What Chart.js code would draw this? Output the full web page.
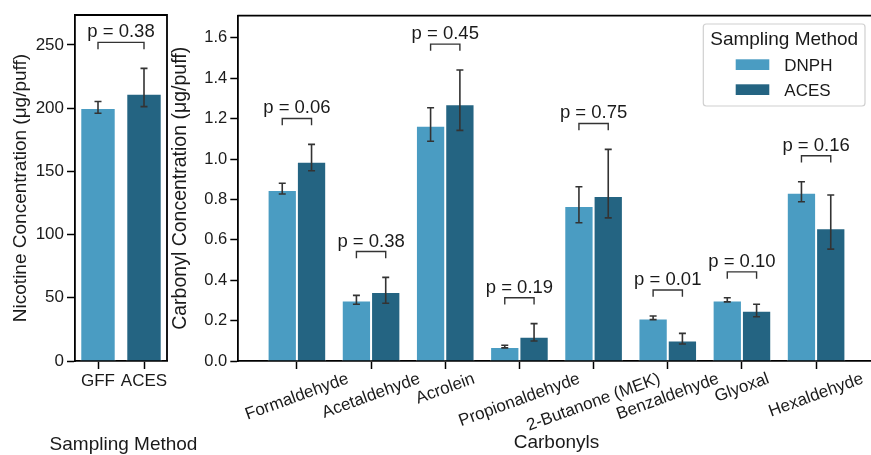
<!DOCTYPE html>
<html><head><meta charset="utf-8">
<script src="https://cdn.jsdelivr.net/npm/chart.js@4.4.1/dist/chart.umd.min.js"></script>
<style>
html,body{margin:0;padding:0;width:871px;height:455px;overflow:hidden;background:#fff;}
canvas{position:absolute;top:0;}
#c1{left:0;}
#c2{left:150px;}
</style></head><body>
<canvas id="c1" width="200" height="455"></canvas>
<canvas id="c2" width="730" height="455"></canvas>
<script>
// ---------- data ----------
const methods = ['GFF', 'ACES'];
const nicotine = [200.2, 211.4];
const nicotineLow = [196.0, 201.2];
const nicotineHigh = [205.3, 231.5];
const nicotineP = '0.38';
const nicotineXTitle = 'Sampling Method';

const categories = ['Formaldehyde', 'Acetaldehyde', 'Acrolein', 'Propionaldehyde',
  '2-Butanone (MEK)', 'Benzaldehyde', 'Glyoxal', 'Hexaldehyde'];
const dnph     = [0.847, 0.299, 1.165, 0.069, 0.767, 0.211, 0.299, 0.833];
const dnphLow  = [0.827, 0.281, 1.088, 0.065, 0.685, 0.205, 0.293, 0.789];
const dnphHigh = [0.880, 0.325, 1.254, 0.078, 0.863, 0.223, 0.313, 0.888];
const aces     = [0.987, 0.342, 1.271, 0.120, 0.817, 0.102, 0.249, 0.657];
const acesLow  = [0.942, 0.286, 1.142, 0.099, 0.709, 0.084, 0.219, 0.554];
const acesHigh = [1.073, 0.414, 1.441, 0.185, 1.048, 0.137, 0.281, 0.822];
const pValues  = ['0.06', '0.38', '0.45', '0.19', '0.75', '0.01', '0.10', '0.16'];
const seriesNames = ['DNPH', 'ACES'];
const legendTitle = 'Sampling Method';

// ---------- style ----------
const FONT = "'Liberation Sans', Arial, Helvetica, sans-serif";
const C_LIGHT = '#4a9cc2';
const C_DARK = '#246482';
const INK = '#1a1a1a';
const ERR = '#333333';
const NIC_MAX = 273.7;
const CARB_MAX = 1.71;

Chart.defaults.font.family = FONT;
Chart.defaults.color = INK;

function axisGrid() {
  return {display: true, drawOnChartArea: false, drawTicks: true, tickLength: 8,
          tickWidth: 1.5, tickColor: '#000', offset: false};
}

// error bars + p brackets
function makeAnnot(lows, highs, pv, ymax, pairs) {
  return {
    id: 'annot',
    afterDatasetsDraw(chart) {
      const ctx = chart.ctx, ys = chart.scales.y;
      ctx.save();
      ctx.strokeStyle = ERR; ctx.lineWidth = 1.6; ctx.lineCap = 'butt';
      chart.data.datasets.forEach((ds, di) => {
        const meta = chart.getDatasetMeta(di);
        meta.data.forEach((bar, i) => {
          const lo = lows[di][i], hi = highs[di][i];
          const y1 = ys.getPixelForValue(lo), y2 = ys.getPixelForValue(hi);
          ctx.beginPath();
          ctx.moveTo(bar.x, y1); ctx.lineTo(bar.x, y2);
          ctx.moveTo(bar.x - 3.5, y1); ctx.lineTo(bar.x + 3.5, y1);
          ctx.moveTo(bar.x - 3.5, y2); ctx.lineTo(bar.x + 3.5, y2);
          ctx.stroke();
        });
      });
      // brackets
      ctx.lineWidth = 1.4; ctx.strokeStyle = '#333';
      ctx.fillStyle = INK;
      ctx.font = '18.5px ' + FONT;
      ctx.textAlign = 'center'; ctx.textBaseline = 'alphabetic';
      pairs.forEach(([xa, xb, top], k) => {
        const yb = ys.getPixelForValue(top + 0.075 * ymax);
        const yt = ys.getPixelForValue(top + 0.075 * ymax - 0.0195 * ymax);
        ctx.beginPath();
        ctx.moveTo(xa, yt); ctx.lineTo(xa, yb); ctx.lineTo(xb, yb); ctx.lineTo(xb, yt);
        ctx.stroke();
        ctx.fillText('p = ' + pv[k], (xa + xb) / 2, yb - 5);
      });
      ctx.restore();
    }
  };
}

const spinePlugin = (withRight) => ({
  id: 'spines',
  afterDraw(chart) {
    const {ctx, chartArea: a} = chart;
    ctx.save();
    ctx.strokeStyle = '#000'; ctx.lineWidth = 1.8;
    ctx.beginPath();
    ctx.moveTo(a.left - 0.9, a.top); ctx.lineTo(a.right + (withRight ? 0.9 : 20), a.top);
    if (withRight) { ctx.moveTo(a.right, a.top); ctx.lineTo(a.right, a.bottom); }
    ctx.stroke();
    ctx.restore();
  }
});

// ---------- left chart (nicotine) ----------
const leftXTitle = {
  id: 'leftXTitle',
  afterDraw(chart) {
    const {ctx, chartArea: a} = chart;
    ctx.save();
    ctx.font = '19px ' + FONT;
    ctx.fillStyle = INK;
    ctx.textAlign = 'center'; ctx.textBaseline = 'alphabetic';
    ctx.fillText(nicotineXTitle, (a.left + a.right) / 2 + 2.5, 449.5);
    ctx.restore();
  }
};

const leftChart = new Chart(document.getElementById('c1'), {
  type: 'bar',
  data: {
    labels: methods,
    datasets: [{
      label: 'Nicotine', data: nicotine,
      backgroundColor: [C_LIGHT, C_DARK], borderColor: 'rgba(255,255,255,0.9)', borderWidth: 1,
      barPercentage: 0.77, categoryPercentage: 1.0
    }]
  },
  options: {
    responsive: false, animation: false, events: [],
    layout: {padding: {top: 15, right: 33, left: 0, bottom: 0}},
    plugins: {legend: {display: false}, tooltip: {enabled: false}},
    scales: {
      x: {
        type: 'category', offset: true, grid: axisGrid(),
        border: {display: true, color: '#000', width: 1.8},
        ticks: {font: {size: 17}, color: INK, padding: 2, maxRotation: 0, autoSkip: false},
        afterFit: s => { s.height = 94; }
      },
      y: {
        min: 0, max: NIC_MAX, grid: axisGrid(),
        border: {display: true, color: '#000', width: 1.8},
        ticks: {stepSize: 50, includeBounds: false, font: {size: 17}, color: INK, padding: 3},
        title: {display: true, text: 'Nicotine Concentration (μg/puff)', font: {size: 19}, color: INK, padding: {top: 9, bottom: 0}},
        afterFit: s => { s.width = 75; }
      }
    }
  },
  plugins: [
    {
      id: 'nicAnnot',
      afterDatasetsDraw(chart) {
        const meta = chart.getDatasetMeta(0);
        const p = makeAnnot([nicotineLow], [nicotineHigh], [nicotineP], NIC_MAX,
          [[meta.data[0].x, meta.data[1].x, Math.max(...nicotineHigh)]]);
        p.afterDatasetsDraw(chart);
      }
    },
    spinePlugin(true), leftXTitle
  ]
});

// ---------- right chart (carbonyls) ----------
const xLabelPlugin = {
  id: 'xlabels',
  afterDraw(chart) {
    const {ctx, scales: {x}, chartArea: a} = chart;
    const ang = 20 * Math.PI / 180;
    const size = 17;
    ctx.save();
    ctx.font = size + 'px ' + FONT;
    ctx.fillStyle = INK;
    ctx.textAlign = 'center'; ctx.textBaseline = 'middle';
    categories.forEach((c, i) => {
      const px = x.getPixelForValue(i);
      const w = ctx.measureText(c).width;
      const h = size * 1.1;
      const H = w * Math.sin(ang) + h * Math.cos(ang);
      const cy = a.bottom + 8 + 0.5 + H / 2;
      ctx.save();
      ctx.translate(px, cy);
      ctx.rotate(-ang);
      ctx.fillText(c, 0, 0);
      ctx.restore();
    });
    ctx.restore();
  }
};

const legendPlugin = {
  id: 'legendBox',
  afterDraw(chart) {
    const {ctx, chartArea: a} = chart;
    const bw = 161.7, bh = 82;
    const left = a.right - 9.7 - bw, top = a.top + 8.3;
    ctx.save();
    ctx.fillStyle = 'rgba(255,255,255,0.85)';
    ctx.strokeStyle = '#d0d0d0'; ctx.lineWidth = 1.2;
    ctx.beginPath();
    ctx.roundRect(left, top, bw, bh, 3);
    ctx.fill(); ctx.stroke();
    ctx.fillStyle = INK;
    ctx.font = '19px ' + FONT;
    ctx.textAlign = 'center'; ctx.textBaseline = 'alphabetic';
    ctx.fillText(legendTitle, left + bw / 2, top + 21);
    ctx.font = '17px ' + FONT;
    ctx.textAlign = 'left';
    chart.data.datasets.forEach((ds, i) => {
      ctx.fillStyle = ds.backgroundColor;
      ctx.fillRect(left + 32.4, top + 35.3 + i * 25, 33.6, 10.7);
      ctx.fillStyle = INK;
      ctx.fillText(ds.label, left + 81, top + 46.7 + i * 25);
    });
    ctx.restore();
  }
};

const rightChart = new Chart(document.getElementById('c2'), {
  type: 'bar',
  data: {
    datasets: [
      {label: seriesNames[0], data: categories.map((c, i) => ({x: i, y: dnph[i]})),
       backgroundColor: C_LIGHT, borderColor: 'rgba(255,255,255,0.9)', borderWidth: 1,
       barPercentage: 1.0, categoryPercentage: 0.79},
      {label: seriesNames[1], data: categories.map((c, i) => ({x: i, y: aces[i]})),
       backgroundColor: C_DARK, borderColor: 'rgba(255,255,255,0.9)', borderWidth: 1,
       barPercentage: 1.0, categoryPercentage: 0.79}
    ]
  },
  options: {
    responsive: false, animation: false, events: [],
    layout: {padding: {top: 15.7, right: 5.3, left: 0, bottom: 0}},
    plugins: {legend: {display: false}, tooltip: {enabled: false}},
    scales: {
      x: {
        type: 'linear', min: -0.79, max: 7.79, offset: false,
        afterBuildTicks: s => { s.ticks = categories.map((c, i) => ({value: i})); },
        grid: axisGrid(),
        border: {display: true, color: '#000', width: 1.8},
        ticks: {display: false},
        title: {display: true, text: 'Carbonyls', font: {size: 19}, color: INK, padding: {top: 0, bottom: 1}},
        afterFit: s => { s.height = 94; }
      },
      y: {
        min: 0, max: CARB_MAX, grid: axisGrid(),
        border: {display: true, color: '#000', width: 1.8},
        ticks: {stepSize: 0.2, includeBounds: false, font: {size: 16.5}, color: INK, padding: 3,
                callback: v => v.toFixed(1)},
        title: {display: true, text: 'Carbonyl Concentration (μg/puff)', font: {size: 19.5}, color: INK, padding: {top: 18.5, bottom: 0}},
        afterFit: s => { s.width = 88.3; }
      }
    }
  },
  plugins: [
    {
      id: 'carbAnnot',
      afterDatasetsDraw(chart) {
        const m0 = chart.getDatasetMeta(0), m1 = chart.getDatasetMeta(1);
        const pairs = categories.map((c, i) => [m0.data[i].x, m1.data[i].x, Math.max(dnphHigh[i], acesHigh[i])]);
        makeAnnot([dnphLow, acesLow], [dnphHigh, acesHigh], pValues, CARB_MAX, pairs).afterDatasetsDraw(chart);
      }
    },
    xLabelPlugin, spinePlugin(false), legendPlugin
  ]
});
</script>
</body></html>
